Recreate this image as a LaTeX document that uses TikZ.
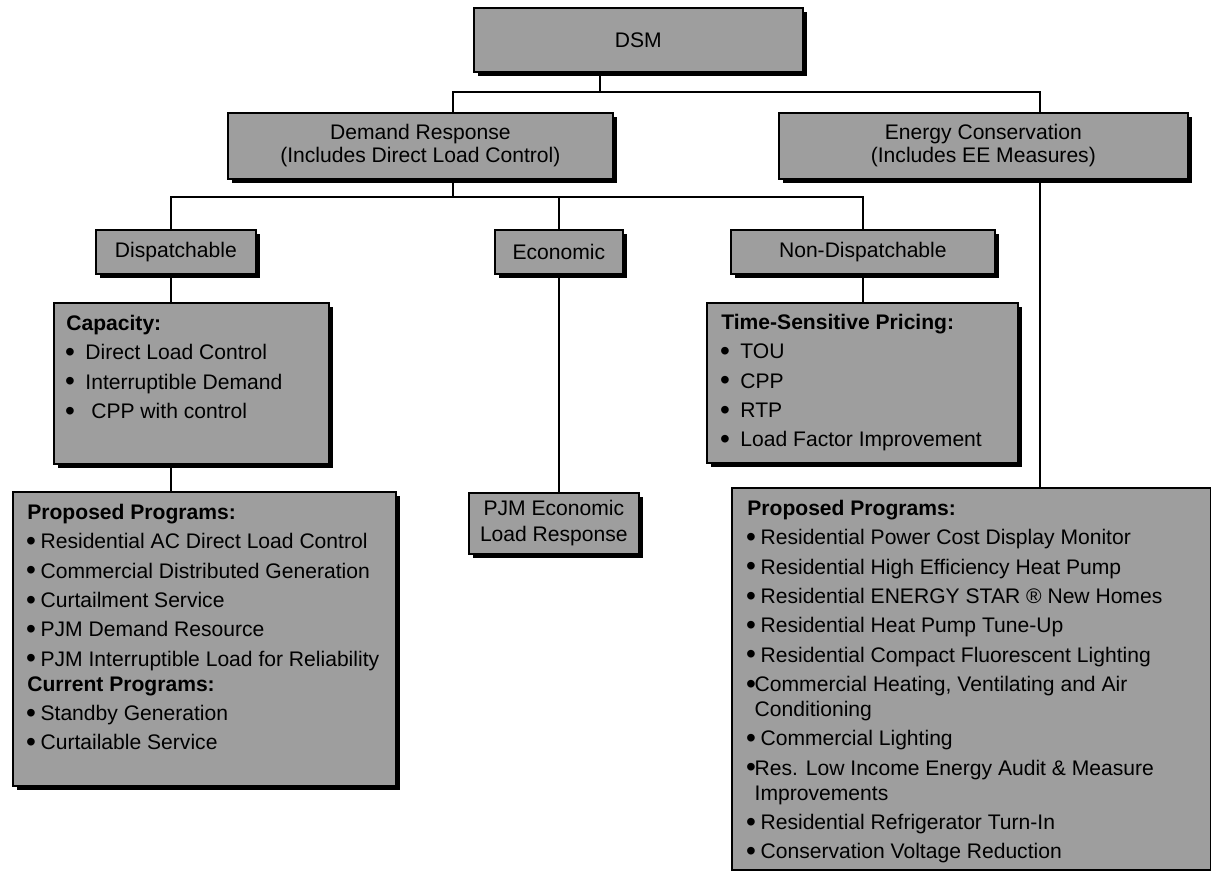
\documentclass[tikz,border=0pt]{standalone}
\usepackage{fontspec}
\setmainfont{Liberation Sans}
\usepackage{tikz}
\usetikzlibrary{positioning, shadows}

\newcommand{\bul}{\makebox[0.35em]{\raisebox{-0.9pt}{\fontsize{16}{12}\selectfont\textbullet}}}

\begin{document}
\begin{tikzpicture}[
  x=0.02cm, y=-0.02cm,
  box/.style={rectangle, draw=black, line width=1pt, fill=black!38, anchor=north west,
    drop shadow={shadow xshift=0.08cm, shadow yshift=-0.08cm, fill=black, opacity=1}},
  title/.style={box, align=center, font=\fontsize{12}{13}\selectfont},
  listtxt/.style={anchor=north west, inner sep=0pt, align=left, font=\fontsize{12}{16.7}\selectfont},
  link/.style={line width=0.9pt}
]
\useasboundingbox (0,0) rectangle (1211,871);

\node[title, minimum width=6.58cm, minimum height=1.28cm] (dsm) at (473,7) {DSM};
\node[title, minimum width=7.70cm, minimum height=1.32cm] (dr) at (227,112) {Demand Response\\(Includes Direct Load Control)};
\node[title, minimum width=8.18cm, minimum height=1.32cm] (ec) at (778,112) {Energy Conservation\\(Includes EE Measures)};

\node[title, minimum width=3.20cm, minimum height=0.88cm] (disp) at (95,229) {Dispatchable};
\node[title, minimum width=2.56cm, minimum height=0.88cm] (econ) at (494,229) {Economic};
\node[title, minimum width=5.28cm, minimum height=0.88cm] (nondisp) at (730,229) {Non-Dispatchable};

\node[box, minimum width=5.50cm, minimum height=3.22cm] (cap) at (53,302) {};
\node[listtxt] (captxt) at (66,315) {\textbf{Capacity:}\\
  \bul\ \ Direct Load Control\\
  \bul\ \ Interruptible Demand\\
  \bul\ \ \ CPP with control};

\node[box, minimum width=6.22cm, minimum height=3.20cm] (tsp) at (706,302) {};
\node[listtxt] (tsptxt) at (721,314) {\textbf{Time-Sensitive Pricing:}\\
  \bul\ \ TOU\\
  \bul\ \ CPP\\
  \bul\ \ RTP\\
  \bul\ \ Load Factor Improvement};

\node[title, minimum width=3.40cm, minimum height=1.22cm, font=\fontsize{12}{14.8}\selectfont] (pjm) at (468,492) {PJM Economic\\Load Response};

\node[box, minimum width=7.66cm, minimum height=5.88cm] (dispprog) at (12,491) {};
\node[listtxt] (dispprogtxt) at (27,504) {\textbf{Proposed Programs:}\\
  \bul\ Residential AC Direct Load Control\\
  \bul\ Commercial Distributed Generation\\
  \bul\ Curtailment Service\\
  \bul\ PJM Demand Resource\\
  \bul\ PJM Interruptible Load for Reliability\\[-2.5pt]
  \textbf{Current Programs:}\\
  \bul\ Standby Generation\\
  \bul\ Curtailable Service};

\node[box, minimum width=9.58cm, minimum height=7.64cm] (eeprog) at (731,487) {};
\node[listtxt] (eeprogtxt) at (747,500) {\textbf{Proposed Programs:}\\
  \bul\ Residential Power Cost Display Monitor\\
  \bul\ Residential High Efficiency Heat Pump\\
  \bul\ Residential ENERGY STAR \textregistered\ New Homes\\
  \bul\ Residential Heat Pump Tune-Up\\
  \bul\ Residential Compact Fluorescent Lighting\\
  \bul Commercial Heating, Ventilating and Air\\[-2.5pt]
  \phantom{\bul}Conditioning\\
  \bul\ Commercial Lighting\\
  \bul Res. Low Income Energy Audit \& Measure\\[-2.5pt]
  \phantom{\bul}Improvements\\
  \bul\ Residential Refrigerator Turn-In\\
  \bul\ Conservation Voltage Reduction};

\coordinate (j1) at (600,92);
\coordinate (j2) at (453,197);
\coordinate (j3) at (1040,92);
\coordinate (j4) at (171,197);

\draw[link] (dsm.south -| j1) -- (j1);
\draw[link] (dr.north -| j2) |- (j3) -- (ec.north -| j3);
\draw[link] (dr.south -| j2) -- (j2);
\draw[link] (disp.north -| j4) |- (j2) -| (nondisp.north);
\draw[link] (econ.north) -- (econ.north |- j2);
\draw[link] (disp.south -| j4) -- (cap.north -| j4);
\draw[link] (cap.south -| j4) -- (dispprog.north -| j4);
\draw[link] (econ.south) -- (econ.south |- pjm.north);
\draw[link] (nondisp.south) -- (nondisp.south |- tsp.north);
\draw[link] (ec.south -| j3) -- (eeprog.north -| j3);

\end{tikzpicture}
\end{document}
